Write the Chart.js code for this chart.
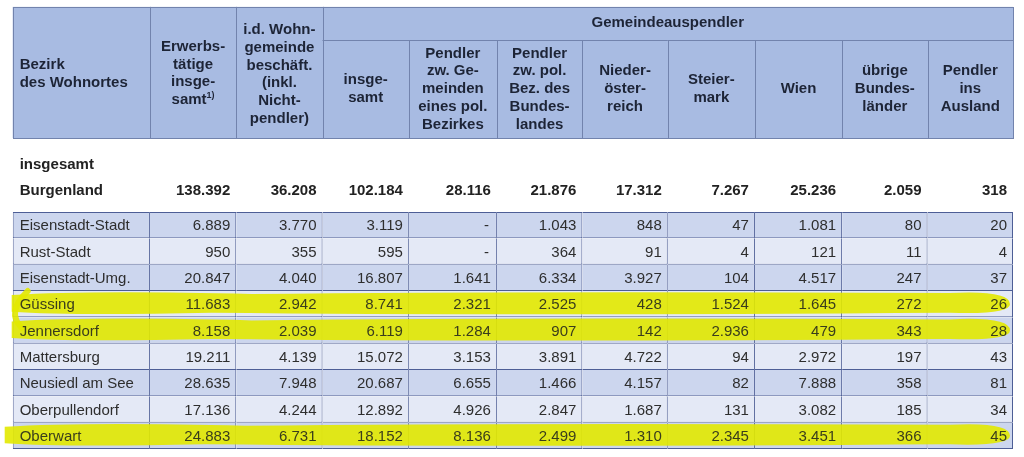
<!DOCTYPE html>
<html lang="de">
  <head>
    <meta charset="UTF-8" />
    <script src="https://cdn.jsdelivr.net/npm/chart.js"></script>
    <title>Gemeindeauspendler Burgenland</title>
    <style>
      html, body { margin: 0; padding: 0; background: #fff; }
      #wrap { width: 1024px; height: 457px; position: relative; }
    </style>
  </head>
  <body>
    <div id="wrap"><canvas id="table"></canvas></div>

    <script>
      // rows and values
      const districts = ['Eisenstadt-Stadt', 'Rust-Stadt', 'Eisenstadt-Umg.', 'Güssing', 'Jennersdorf',
        'Mattersburg', 'Neusiedl am See', 'Oberpullendorf', 'Oberwart']
      const erwerbstaetige = [6889, 950, 20847, 11683, 8158, 19211, 28635, 17136, 24883]
      const wohngemeinde = [3770, 355, 4040, 2942, 2039, 4139, 7948, 4244, 6731]
      const auspendlerGesamt = [3119, 595, 16807, 8741, 6119, 15072, 20687, 12892, 18152]
      const zwGemeinden = [null, null, 1641, 2321, 1284, 3153, 6655, 4926, 8136]
      const zwBezirken = [1043, 364, 6334, 2525, 907, 3891, 1466, 2847, 2499]
      const niederoesterreich = [848, 91, 3927, 428, 142, 4722, 4157, 1687, 1310]
      const steiermark = [47, 4, 104, 1524, 2936, 94, 82, 131, 2345]
      const wien = [1081, 121, 4517, 1645, 479, 2972, 7888, 3082, 3451]
      const uebrigeLaender = [80, 11, 247, 272, 343, 197, 358, 185, 366]
      const ausland = [20, 4, 37, 26, 28, 43, 81, 34, 45]
      const burgenland = [138392, 36208, 102184, 28116, 21876, 17312, 7267, 25236, 2059, 318]
      const highlighted = ['Güssing', 'Jennersdorf', 'Oberwart']

      // header texts
      const mainHeaders = [
        ['Bezirk', 'des Wohnortes'],
        ['Erwerbs-', 'tätige', 'insge-', 'samt'],
        ['i.d. Wohn-', 'gemeinde', 'beschäft.', '(inkl.', 'Nicht-', 'pendler)'],
      ]
      const groupHeader = 'Gemeindeauspendler'
      const subHeaders = [
        ['insge-', 'samt'],
        ['Pendler', 'zw. Ge-', 'meinden', 'eines pol.', 'Bezirkes'],
        ['Pendler', 'zw. pol.', 'Bez. des', 'Bundes-', 'landes'],
        ['Nieder-', 'öster-', 'reich'],
        ['Steier-', 'mark'],
        ['Wien'],
        ['übrige', 'Bundes-', 'länder'],
        ['Pendler', 'ins', 'Ausland'],
      ]
      const sectionLabel = 'insgesamt'
      const totalLabel = 'Burgenland'

      const valueColumns = [erwerbstaetige, wohngemeinde, auspendlerGesamt, zwGemeinden, zwBezirken,
        niederoesterreich, steiermark, wien, uebrigeLaender, ausland]

      // layout in scale units (x: column edges, y: row units above the body)
      const colEdges = [0, 1.59, 2.59, 3.59, 4.59, 5.61, 6.6, 7.59, 8.6, 9.61, 10.6, 11.59]
      const hdrTop = -8.29
      const hdrMid = -7.03
      const hdrBottom = -3.31
      const sectionRow = -2.29
      const totalRow = -1.29

      const headerFill = '#a8bbe2'
      const headerLine = '#7283ad'
      const gridLine = '#4d5e96'
      const rowDark = '#ccd6ee'
      const rowLight = '#e4e9f6'
      const marker = 'rgba(226,233,0,0.9)'
      const headFont = 'bold 15px "Liberation Sans", Arial, sans-serif'
      const bodyFont = '15px "Liberation Sans", Arial, sans-serif'
      const lineH = 17.8

      const fmt = (v) => (v === null ? '-' : String(v).replace(/\B(?=(\d{3})+(?!\d))/g, '.'))

      const cellDatasets = colEdges.slice(0, -1).map((edge, c) => ({
        label: 'col' + c,
        data: districts.map(() => [edge, colEdges[c + 1]]),
        grouped: false,
        barPercentage: 1,
        categoryPercentage: 1,
        inflateAmount: 0,
        borderSkipped: false,
        borderColor: gridLine,
        backgroundColor: (ctx) => (ctx.dataIndex % 2 === 0 ? rowDark : rowLight),
        borderWidth: (ctx) => ({
          top: ctx.dataIndex === 0 ? 1 : 0,
          left: ctx.datasetIndex === 0 ? 1 : 0,
          right: 1,
          bottom: 1,
        }),
      }))

      const drawLines = (ctx, lines, cx, cy, align) => {
        ctx.textAlign = align
        const start = cy - ((lines.length - 1) / 2) * lineH
        lines.forEach((t, i) => ctx.fillText(t, cx, start + i * lineH))
      }

      const drawMarkers = (chart) => {
        const ctx = chart.ctx
        const X = (v) => chart.scales.x.getPixelForValue(v)
        const Y = (v) => chart.scales.y.getPixelForValue(v)
        const h = Y(1) - Y(0)
        ctx.save()
        ctx.fillStyle = marker
        highlighted.forEach((name, k) => {
          const r = districts.indexOf(name)
          const cy = Y(r)
          const x0 = X(colEdges[0]) - (k === 2 ? 8 : 1)
          const x1 = X(colEdges[colEdges.length - 1]) - 3
          const t = cy - 0.46 * h
          const b = cy + 0.36 * h
          ctx.beginPath()
          ctx.moveTo(x0, t + 3)
          ctx.quadraticCurveTo(x0 + 80, t - 2, x0 + 240, t + 2)
          ctx.quadraticCurveTo((x0 + x1) / 2, t - 1, x1 - 60, t + 1)
          ctx.quadraticCurveTo(x1, t - 2, x1, cy)
          ctx.quadraticCurveTo(x1, b + 1, x1 - 60, b - 1)
          ctx.quadraticCurveTo((x0 + x1) / 2, b + 2, x0 + 200, b - 1)
          ctx.quadraticCurveTo(x0 + 60, b + 2, x0, b - 2)
          ctx.closePath()
          ctx.fill()
          if (k === 0) {
            ctx.lineWidth = 6
            ctx.lineCap = 'round'
            ctx.strokeStyle = marker
            ctx.beginPath()
            ctx.moveTo(x0 + 16, t - 1)
            ctx.quadraticCurveTo(x0 - 6, cy + 8, x0 + 10, cy + h * 0.9)
            ctx.stroke()
          }
        })
        ctx.restore()
      }

      const tablePlugin = {
        id: 'tableText',
        afterDatasetsDraw(chart) {
          const ctx = chart.ctx
          const X = (v) => chart.scales.x.getPixelForValue(v)
          const Y = (v) => chart.scales.y.getPixelForValue(v)
          const left = X(colEdges[0])
          const right = X(colEdges[colEdges.length - 1])
          const top = Y(hdrTop)
          const mid = Y(hdrMid)
          const bottom = Y(hdrBottom)

          drawMarkers(chart)

          ctx.save()
          // header box
          ctx.fillStyle = headerFill
          ctx.fillRect(left, top, right - left, bottom - top)
          ctx.strokeStyle = headerLine
          ctx.lineWidth = 1
          ctx.strokeRect(Math.round(left) + 0.5, Math.round(top) + 0.5, Math.round(right - left), Math.round(bottom - top))
          ctx.beginPath()
          for (let c = 1; c < colEdges.length - 1; c++) {
            const px = Math.round(X(colEdges[c])) + 0.5
            ctx.moveTo(px, c <= 3 ? top : Math.round(mid))
            ctx.lineTo(px, bottom)
          }
          const my = Math.round(mid) + 0.5
          ctx.moveTo(X(colEdges[3]), my)
          ctx.lineTo(right, my)
          ctx.stroke()

          // header text
          ctx.fillStyle = '#1d2436'
          ctx.font = headFont
          ctx.textBaseline = 'middle'
          const hcy = (top + bottom) / 2
          drawLines(ctx, mainHeaders[0], left + 7, hcy + 1.5, 'left')
          // Erwerbstätige with superscript
          const c1 = (X(colEdges[1]) + X(colEdges[2])) / 2
          const l1 = mainHeaders[1]
          const s1 = hcy + 1 - ((l1.length - 1) / 2) * lineH
          ctx.textAlign = 'center'
          l1.slice(0, -1).forEach((t, i) => ctx.fillText(t, c1, s1 + i * lineH))
          const last = l1[l1.length - 1]
          const wMain = ctx.measureText(last).width
          ctx.font = 'bold 9px "Liberation Sans", Arial, sans-serif'
          const wSup = ctx.measureText('1)').width
          ctx.textAlign = 'left'
          ctx.fillText('1)', c1 - (wMain + wSup) / 2 + wMain, s1 + (l1.length - 1) * lineH - 5)
          ctx.font = headFont
          ctx.fillText(last, c1 - (wMain + wSup) / 2, s1 + (l1.length - 1) * lineH)

          drawLines(ctx, mainHeaders[2], (X(colEdges[2]) + X(colEdges[3])) / 2, hcy + 2, 'center')
          ctx.textAlign = 'center'
          ctx.fillText(groupHeader, (X(colEdges[3]) + right) / 2, (top + mid) / 2 - 1)
          subHeaders.forEach((lines, i) => {
            const cx = (X(colEdges[i + 3]) + X(colEdges[i + 4])) / 2
            drawLines(ctx, lines, cx, (mid + bottom) / 2, 'center')
          })

          // totals block
          ctx.fillStyle = '#222'
          ctx.textAlign = 'left'
          ctx.fillText(sectionLabel, left + 7, Y(sectionRow))
          ctx.fillText(totalLabel, left + 7, Y(totalRow))
          ctx.textAlign = 'right'
          burgenland.forEach((v, c) => ctx.fillText(fmt(v), X(colEdges[c + 2]) - 6, Y(totalRow)))

          // body text
          ctx.font = bodyFont
          districts.forEach((name, r) => {
            const py = Y(r) + 1
            ctx.fillStyle = highlighted.includes(name) ? '#3a3d1c' : '#2e2e2e'
            ctx.textAlign = 'left'
            ctx.fillText(name, left + 7, py)
            ctx.textAlign = 'right'
            valueColumns.forEach((col, c) => {
              const v = col[r]
              ctx.fillText(fmt(v), X(colEdges[c + 2]) - (v === null ? 8 : 6), py)
            })
          })
          ctx.restore()
        },
      }

      new Chart(document.getElementById('table'), {
        type: 'bar',
        data: { labels: districts, datasets: cellDatasets },
        plugins: [tablePlugin],
        options: {
          indexAxis: 'y',
          responsive: true,
          maintainAspectRatio: false,
          animation: false,
          events: [],
          layout: { padding: { left: 12.7, right: 11, top: 212, bottom: 8 } },
          scales: {
            x: { type: 'linear', min: colEdges[0], max: colEdges[colEdges.length - 1], display: false },
            y: { type: 'category', display: false },
          },
          plugins: {
            legend: { display: false },
            tooltip: { enabled: false },
          },
        },
      })
    </script>
  </body>
</html>
